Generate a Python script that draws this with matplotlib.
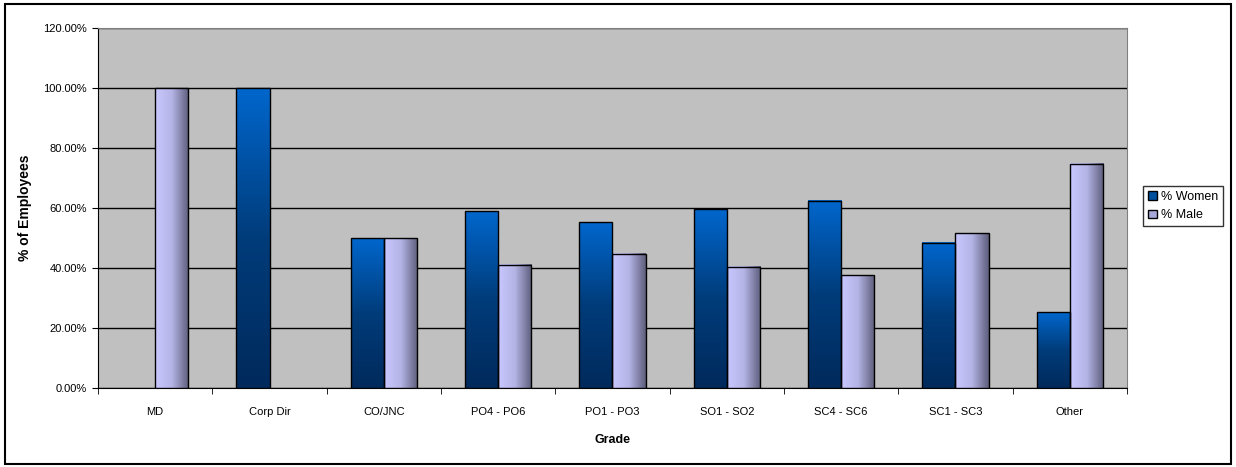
import numpy as np
import matplotlib.pyplot as plt
from matplotlib.patches import Patch, Rectangle
from matplotlib.colors import LinearSegmentedColormap

grades = ['MD', 'Corp Dir', 'CO/JNC', 'PO4 - PO6', 'PO1 - PO3',
          'SO1 - SO2', 'SC4 - SC6', 'SC1 - SC3', 'Other']
women = [0.0, 100.0, 50.0, 58.9, 55.3, 59.6, 62.5, 48.4, 25.2]
male = [100.0, 0.0, 50.0, 41.1, 44.7, 40.4, 37.5, 51.6, 74.8]
yticks = [0, 20, 40, 60, 80, 100, 120]

plt.rcParams['font.family'] = ['Liberation Sans', 'DejaVu Sans']

fig = plt.figure(figsize=(12.36, 4.67), dpi=100)
ax = fig.add_axes([0.0793, 0.1692, 0.8325, 0.7708])
ax.set_facecolor('#C0C0C0')

x = np.arange(len(grades))
w = 0.29
bw = ax.bar(x - w / 2, women, w, facecolor='none', edgecolor='black', lw=1, zorder=4)
bm = ax.bar(x + w / 2, male, w, facecolor='none', edgecolor='black', lw=1, zorder=4)

# per-bar gradient fills, like the Excel original
cw = LinearSegmentedColormap.from_list('w', ['#002A5C', '#003C7A', '#0066CC'])
cm = LinearSegmentedColormap.from_list('m', ['#C8C8FF', '#B4B4E6', '#5E5E7C'])
vgrad = np.linspace(0, 1, 100).reshape(-1, 1)
hgrad = np.linspace(0, 1, 100).reshape(1, -1)
for bars, grad, cmap in [(bw, vgrad, cw), (bm, hgrad, cm)]:
    for b in bars:
        h = b.get_height()
        if h <= 0:
            b.set_linewidth(0)
            continue
        x0 = b.get_x()
        ax.imshow(grad, cmap=cmap, origin='lower', aspect='auto', zorder=3,
                  extent=[x0, x0 + b.get_width(), 0, h])

ax.set_xlim(-0.5, len(grades) - 0.5)
ax.set_ylim(0, 120)
ax.set_yticks(yticks)
ax.set_yticklabels(['%.2f%%' % v for v in yticks], fontsize=8)
ax.set_xticks(x)
ax.set_xticklabels(grades, fontsize=8)
ax.set_xticks(np.arange(-0.5, len(grades), 1), minor=True)
ax.tick_params(axis='x', which='major', length=0, pad=14)
ax.tick_params(axis='x', which='minor', length=4, direction='out')
ax.tick_params(axis='y', length=4, direction='out', pad=4)
ax.yaxis.grid(True, color='black', lw=1)
ax.set_axisbelow(True)
for s in ['top', 'right']:
    ax.spines[s].set_color('#808080')
ax.spines['left'].set_color('black')
ax.spines['bottom'].set_color('black')

ax.set_xlabel('Grade', fontsize=9, fontweight='bold', labelpad=12)
ax.set_ylabel('% of Employees', fontsize=10, fontweight='bold', labelpad=8)

handles = [Patch(facecolor='#0050A0', edgecolor='black', label='% Women'),
           Patch(facecolor='#A8A8D8', edgecolor='black', label='% Male')]
leg = fig.legend(handles=handles, loc='upper left', bbox_to_anchor=(0.920, 0.615),
                 fontsize=9, frameon=True, fancybox=False, edgecolor='black',
                 handlelength=0.7, handleheight=0.7, handletextpad=0.3,
                 borderpad=0.4, labelspacing=0.5)

fig.patches.append(Rectangle((0.004, 0.006), 0.992, 0.986, transform=fig.transFigure,
                             fill=False, edgecolor='black', lw=1.5))

fig.savefig('out.png', dpi=100)
